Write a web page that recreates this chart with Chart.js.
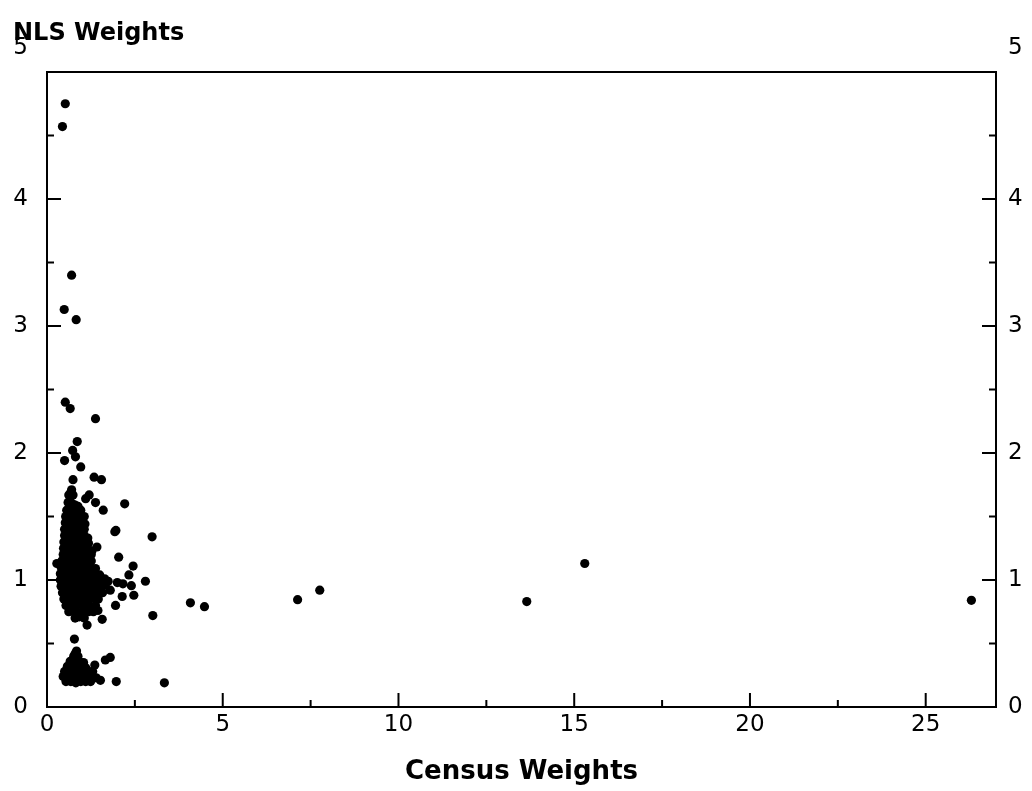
<!DOCTYPE html>
<html>
<head>
<meta charset="utf-8">
<script src="https://cdn.jsdelivr.net/npm/chart.js@4.4.1/dist/chart.umd.min.js"></script>
<style>
html, body { margin: 0; padding: 0; background: #fff; }
#wrap { width: 1032px; height: 791px; }
</style>
</head>
<body>
<div id="wrap"><canvas id="c"></canvas></div>
<script>
const yAxisTitle = 'NLS Weights';
const xAxisTitle = 'Census Weights';
const xMajorTicks = [0, 5, 10, 15, 20, 25];
const xMinorTicks = [2.5, 7.5, 12.5, 17.5, 22.5];
const yMajorTicks = [0, 1, 2, 3, 4, 5];
const yMinorTicks = [0.5, 1.5, 2.5, 3.5, 4.5];

// [census weight, nls weight]
const mainCluster = [
  [0.62, 1.67], [0.68, 1.69], [0.74, 1.67], [0.66, 1.65], [0.70, 1.71],
  [0.60, 1.61], [0.72, 1.60], [0.80, 1.59], [0.88, 1.58],
  [0.56, 1.55], [0.70, 1.55], [0.84, 1.54], [0.96, 1.55],
  [0.53, 1.50], [0.68, 1.50], [0.82, 1.49], [0.95, 1.51], [1.06, 1.50],
  [0.52, 1.45], [0.66, 1.45], [0.80, 1.44], [0.94, 1.46], [1.08, 1.44],
  [0.50, 1.40], [0.64, 1.40], [0.78, 1.39], [0.92, 1.41], [1.06, 1.40],
  [0.50, 1.35], [0.64, 1.35], [0.78, 1.34], [0.92, 1.36], [1.06, 1.35], [1.16, 1.33],
  [0.48, 1.30], [0.62, 1.30], [0.76, 1.29], [0.90, 1.31], [1.04, 1.30], [1.18, 1.29],
  [0.47, 1.25], [0.60, 1.25], [0.74, 1.24], [0.88, 1.26], [1.02, 1.25], [1.16, 1.24], [1.28, 1.23],
  [0.46, 1.20], [0.60, 1.20], [0.74, 1.19], [0.88, 1.21], [1.02, 1.20], [1.16, 1.19], [1.26, 1.20],
  [0.42, 1.15], [0.56, 1.15], [0.70, 1.14], [0.84, 1.16], [0.98, 1.15], [1.12, 1.14], [1.26, 1.15],
  [0.40, 1.10], [0.54, 1.10], [0.68, 1.09], [0.82, 1.11], [0.96, 1.10], [1.10, 1.09], [1.24, 1.10], [1.38, 1.09],
  [0.38, 1.05], [0.52, 1.05], [0.66, 1.04], [0.80, 1.06], [0.94, 1.05], [1.08, 1.04], [1.22, 1.06], [1.36, 1.05], [1.50, 1.04],
  [0.38, 1.00], [0.52, 1.00], [0.66, 0.99], [0.80, 1.01], [0.94, 1.00], [1.08, 0.99], [1.22, 1.01], [1.36, 1.00], [1.50, 1.00], [1.64, 1.01], [1.74, 0.99],
  [0.40, 0.95], [0.54, 0.95], [0.68, 0.94], [0.82, 0.96], [0.96, 0.95], [1.10, 0.94], [1.24, 0.96], [1.38, 0.95], [1.52, 0.95], [1.66, 0.96],
  [0.44, 0.90], [0.58, 0.90], [0.72, 0.89], [0.86, 0.91], [1.00, 0.90], [1.14, 0.89], [1.28, 0.91], [1.42, 0.90], [1.58, 0.90],
  [0.48, 0.85], [0.62, 0.85], [0.76, 0.84], [0.90, 0.86], [1.04, 0.85], [1.18, 0.84], [1.32, 0.86], [1.46, 0.85],
  [0.54, 0.80], [0.68, 0.80], [0.82, 0.79], [0.96, 0.81], [1.10, 0.80], [1.24, 0.79], [1.38, 0.80],
  [0.62, 0.75], [0.76, 0.75], [0.90, 0.74], [1.04, 0.76], [1.18, 0.75], [1.32, 0.75], [1.45, 0.76],
  [0.80, 0.70], [0.92, 0.71], [1.06, 0.70], [1.14, 0.645]
];

const clusterFringe = [
  [0.52, 4.75], [0.44, 4.57], [0.70, 3.40], [0.49, 3.13], [0.83, 3.05],
  [0.52, 2.40], [0.66, 2.35], [1.38, 2.27], [0.86, 2.09], [0.73, 2.02],
  [0.81, 1.97], [0.50, 1.94], [0.96, 1.89], [0.74, 1.79], [1.34, 1.81],
  [1.55, 1.79], [1.10, 1.64], [1.20, 1.67], [1.38, 1.61], [1.60, 1.55],
  [2.21, 1.60], [1.93, 1.38], [1.96, 1.39], [2.99, 1.34], [2.04, 1.18],
  [2.45, 1.11], [2.33, 1.04], [2.80, 0.99], [2.16, 0.97], [2.00, 0.98],
  [2.40, 0.955], [2.47, 0.88], [2.14, 0.87], [1.80, 0.92], [1.42, 1.26],
  [0.28, 1.13], [3.01, 0.72], [1.57, 0.69], [1.95, 0.80]
];

const lowCluster = [
  [0.84, 0.44], [0.80, 0.42],
  [0.76, 0.40], [0.88, 0.40],
  [0.66, 0.36], [0.78, 0.36], [0.92, 0.36], [1.04, 0.35],
  [0.58, 0.32], [0.70, 0.32], [0.84, 0.31], [0.98, 0.32], [1.10, 0.31], [1.36, 0.33],
  [0.50, 0.28], [0.62, 0.28], [0.76, 0.27], [0.90, 0.28], [1.04, 0.27], [1.18, 0.28], [1.30, 0.28],
  [0.46, 0.24], [0.58, 0.24], [0.72, 0.23], [0.86, 0.24], [1.00, 0.23], [1.14, 0.24], [1.28, 0.24], [1.40, 0.23],
  [0.54, 0.20], [0.68, 0.20], [0.82, 0.19], [0.96, 0.20], [1.10, 0.20], [1.24, 0.20], [1.52, 0.21],
  [0.78, 0.535], [1.66, 0.37], [1.80, 0.39], [1.97, 0.20], [3.34, 0.19]
];

const outliers = [
  [4.08, 0.82], [4.48, 0.79], [7.13, 0.845], [7.76, 0.92],
  [13.65, 0.83], [15.3, 1.13], [26.3, 0.84]
];

const toPoints = list => list.map(([x, y]) => ({ x, y }));
const allPoints = [mainCluster, clusterFringe, lowCluster, outliers].flatMap(toPoints);

const tickFont = { family: '"DejaVu Sans"', size: 23, lineHeight: 2.1 };

// inward tick marks, top border and the upper-left axis title
const frameTicks = {
  id: 'frameTicks',
  afterDraw(chart) {
    const { ctx, chartArea: a, scales } = chart;
    ctx.save();
    ctx.strokeStyle = '#000';
    ctx.lineWidth = 2;
    ctx.beginPath();
    ctx.moveTo(a.left, a.top);
    ctx.lineTo(a.right, a.top);
    const xMark = (vals, len) => vals.forEach(v => {
      const px = scales.x.getPixelForValue(v);
      ctx.moveTo(px, a.bottom);
      ctx.lineTo(px, a.bottom - len);
    });
    const yMark = (vals, len) => vals.forEach(v => {
      const py = scales.y.getPixelForValue(v);
      ctx.moveTo(a.left, py);
      ctx.lineTo(a.left + len, py);
      ctx.moveTo(a.right, py);
      ctx.lineTo(a.right - len, py);
    });
    xMark(xMajorTicks, 14);
    xMark(xMinorTicks, 7);
    yMark(yMajorTicks, 14);
    yMark(yMinorTicks, 7);
    ctx.stroke();

    ctx.fillStyle = '#000';
    ctx.font = 'bold 24px "DejaVu Sans"';
    ctx.textBaseline = 'alphabetic';
    ctx.textAlign = 'left';
    ctx.fillText(yAxisTitle, 13, 40);
    ctx.restore();
  }
};

const yLabel = v => (v === 5 ? ['5', ''] : String(v));

new Chart(document.getElementById('c'), {
  type: 'scatter',
  data: {
    datasets: [{
      data: allPoints,
      backgroundColor: '#000',
      borderColor: '#000',
      pointRadius: 4.6,
      pointHoverRadius: 4.6,
      borderWidth: 0
    }]
  },
  options: {
    responsive: true,
    maintainAspectRatio: false,
    animation: false,
    events: [],
    layout: { padding: { top: 72, left: 0, right: 0, bottom: 0 } },
    plugins: { legend: { display: false }, tooltip: { enabled: false } },
    scales: {
      x: {
        type: 'linear',
        min: 0,
        max: 27,
        afterBuildTicks: s => { s.ticks = xMajorTicks.map(value => ({ value })); },
        afterFit: s => { s.height = 84; },
        grid: { display: true, drawOnChartArea: false, drawTicks: false },
        border: { display: true, color: '#000', width: 2 },
        ticks: { color: '#000', font: { family: '"DejaVu Sans"', size: 23 }, padding: 4, maxRotation: 0 },
        title: {
          display: true,
          text: xAxisTitle,
          color: '#000',
          font: { family: '"DejaVu Sans"', size: 26, weight: 'bold' },
          padding: { top: 0, bottom: 3 }
        }
      },
      y: {
        type: 'linear',
        position: 'left',
        min: 0,
        max: 5,
        afterBuildTicks: s => { s.ticks = yMajorTicks.map(value => ({ value })); },
        afterFit: s => { s.width = 47; },
        grid: { display: true, drawOnChartArea: false, drawTicks: false },
        border: { display: true, color: '#000', width: 2 },
        ticks: { color: '#000', font: tickFont, padding: 19, callback: yLabel }
      },
      y2: {
        type: 'linear',
        position: 'right',
        min: 0,
        max: 5,
        afterBuildTicks: s => { s.ticks = yMajorTicks.map(value => ({ value })); },
        afterFit: s => { s.width = 36; },
        grid: { display: true, drawOnChartArea: false, drawTicks: false },
        border: { display: true, color: '#000', width: 2 },
        ticks: { color: '#000', font: tickFont, padding: 12, callback: yLabel }
      }
    }
  },
  plugins: [frameTicks]
});
</script>
</body>
</html>
